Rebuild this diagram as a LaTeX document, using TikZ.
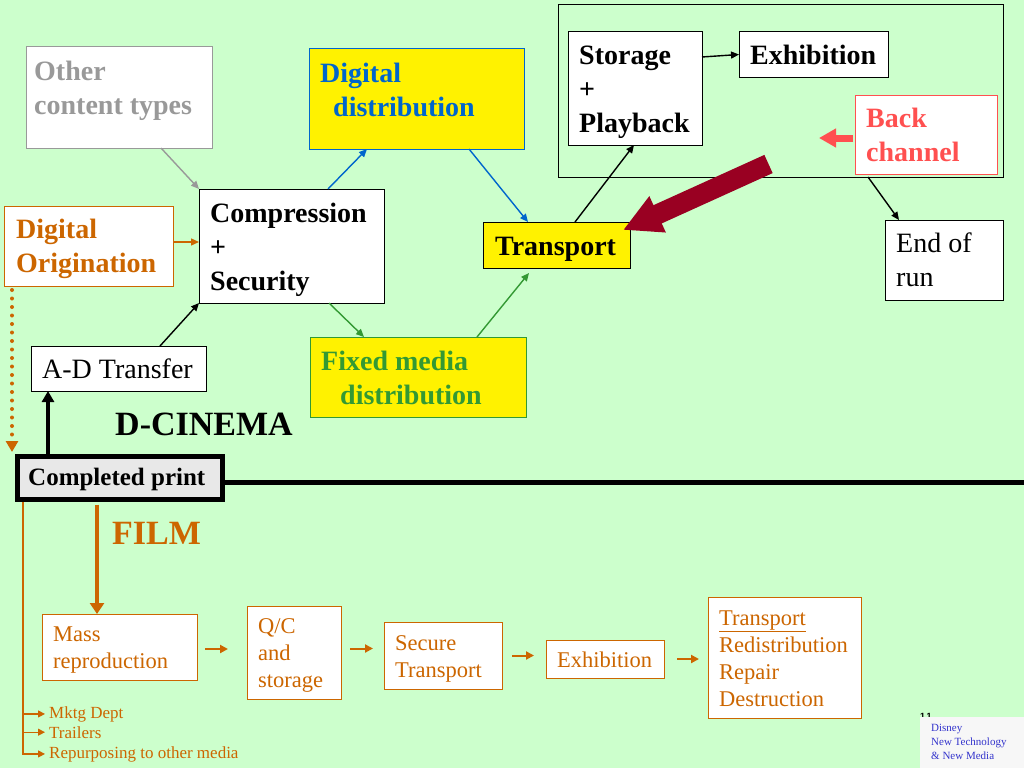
\documentclass[tikz,border=0pt]{standalone}
\usepackage{fontspec}
\setmainfont{Liberation Serif}
\newfontfamily\pagenofont{Liberation Sans}
\usetikzlibrary{arrows.meta}

\definecolor{bgreen}{HTML}{CCFFCC}
\definecolor{orng}{HTML}{CC6600}
\definecolor{gry}{HTML}{999999}
\definecolor{dblue}{HTML}{0066CC}
\definecolor{mgreen}{HTML}{339933}
\definecolor{bred}{HTML}{FF5050}
\definecolor{wine}{HTML}{990022}
\definecolor{dsblue}{HTML}{3333CC}

\begin{document}
\begin{tikzpicture}[x=1pt,y=-1pt,
                box/.style={draw,fill=white,line width=1pt,inner sep=0pt,outer sep=0pt,anchor=north west},
                fbox/.style={box,draw=orng},
                tx/.style={inner sep=0pt,anchor=base west,align=left,font=\fontsize{28}{34}\selectfont\bfseries},
                rm/.style={font=\fontsize{28}{34}\selectfont},
                ftx/.style={inner sep=0pt,anchor=base west,align=left,text=orng,font=\fontsize{22.5}{27}\selectfont},
                side/.style={inner sep=0pt,anchor=base west,text=orng,font=\fontsize{17}{20}\selectfont},
                conn/.style={line width=1.4pt,-{Triangle[length=8pt,width=7pt]}},
                farrow/.style={orng,line width=2pt,-{Triangle[length=8pt,width=8pt]}}
                ]
                \useasboundingbox (0,0) rectangle (1024,768);
                \fill[bgreen] (0,0) rectangle (1024,768);

                % D-cinema side (text nodes sit on the baseline of their last line)
                \node[box,draw=gry,minimum width=186,minimum height=101] (other) at (26,47) {};
                \node[box,draw=dblue,fill=yellow,minimum width=215,minimum height=100] (digdist) at (309,49) {};
                \node[box,minimum width=185,minimum height=114] (comp) at (199,189) {};
                \node[box,draw=orng,minimum width=169,minimum height=80] (digorig) at (4,206) {};
                \node[box,minimum width=175,minimum height=45] (adt) at (31,346) {};
                \node[box,draw=mgreen,fill=yellow,minimum width=216,minimum height=80] (fixed) at (310,337) {};
                \node[box,fill=yellow,minimum width=147,minimum height=46] (trans) at (483,222) {};
                \node[box,fill=none,minimum width=445,minimum height=172] (house) at (558,5) {};
                \node[box,minimum width=134,minimum height=113] (store) at (568,32) {};
                \node[box,minimum width=149,minimum height=45] (exhib) at (739,32) {};
                \node[box,draw=bred,minimum width=142,minimum height=79] (back) at (855,95) {};
                \node[box,minimum width=118,minimum height=80] (endrun) at (885,220) {};
                \node[box,fill=gray!18,line width=5pt,minimum width=205,minimum height=43] (print) at (17.5,456.5) {};

                \node[tx,text=gry] (othertx) at (34,114) {Other\\content types};
                \node[tx,text=dblue] (digdisttx) at (320,116) {Digital\\\hspace*{13pt}distribution};
                \node[tx] (comptx) at (210,290) {Compression\\+\\Security};
                \node[tx,text=orng] (digorigtx) at (16,272) {Digital\\Origination};
                \node[tx,rm] (adttx) at (42,378) {A-D Transfer};
                \node[tx,text=mgreen] (fixedtx) at (321,404) {Fixed media\\\hspace*{19pt}distribution};
                \node[tx] (transtx) at (495,255) {Transport};
                \node[tx] (storetx) at (579,132) {Storage\\+\\Playback};
                \node[tx] (exhibtx) at (750,64) {Exhibition};
                \node[tx,text=bred] (backtx) at (866,161) {Back\\channel};
                \node[tx,rm] (endruntx) at (896,286) {End of\\run};
                \node[tx,font=\fontsize{34}{40}\selectfont\bfseries] (dcinema) at (115,435) {D-CINEMA};
                \node[tx,font=\fontsize{25}{30}\selectfont\bfseries] (printtx) at (28,485) {Completed print};

                \draw[conn,gry] ([xshift=135pt]other.south west) -- (comp.north west);
                \draw[conn,orng] ([yshift=4pt]digorig.east) -- ([yshift=4pt]comp.west);
                \draw[conn] ([xshift=129pt]adt.north west) -- (comp.south west);
                \draw[conn,dblue] ([xshift=129pt]comp.north west) -- ([xshift=58pt]digdist.south west);
                \draw[conn,dblue] ([xshift=160pt]digdist.south west) -- ([xshift=45pt]trans.north west);
                \draw[conn,mgreen] ([xshift=130pt]comp.south west) -- ([xshift=54pt]fixed.north west);
                \draw[conn,mgreen] ([xshift=167pt]fixed.north west) -- ([xshift=46pt,yshift=-5pt]trans.south west);
                \draw[conn] ([xshift=92pt]trans.north west) -- ([xshift=66pt]store.south west);
                \draw[conn] ([yshift=-25pt]store.north east) -- (exhib.west);
                \draw[conn] ([xshift=310pt]house.south west) -- ([xshift=14pt]endrun.north west);
                \coordinate (backtip) at (819,138);
                \draw[bred,line width=7pt,-{Triangle[length=17pt,width=18pt]}] ([xshift=-2pt,yshift=-3.5pt]back.west) -- (backtip);
                \coordinate (redtail) at (768.5,164);
                \coordinate (redtip) at (623,230);
                \draw[wine,line width=20pt,-{Triangle[length=38pt,width=37pt]}] (redtail) -- (redtip);

                \draw[line width=4pt,-{Triangle[length=11pt,width=12pt]}] ([xshift=30.5pt,yshift=2.5pt]print.north west) -- ([xshift=17pt]adt.south west);
                \coordinate (dotend) at (12,452);
                \draw[orng,line width=4pt,line cap=round,dash pattern=on 0pt off 8.5pt,-{Triangle[length=11pt,width=12pt]}] ([xshift=8pt,yshift=-4pt]digorig.south west) -- (dotend);
                \coordinate (rim) at (1024,482);
                \draw[line width=5pt] ([yshift=-4pt]print.east) -- (rim);

                % film side
                \node[tx,text=orng,font=\fontsize{34}{40}\selectfont\bfseries] (film) at (112,544) {FILM};
                \node[fbox,minimum width=155,minimum height=66] (mass) at (42,614) {};
                \node[fbox,minimum width=94,minimum height=93] (qc) at (247,606) {};
                \node[fbox,minimum width=118,minimum height=67] (sectr) at (384,622) {};
                \node[fbox,minimum width=118,minimum height=38] (fexhib) at (546,640) {};
                \node[fbox,minimum width=153,minimum height=121] (redis) at (708,597) {};

                \node[ftx] (masstx) at (53,668) {Mass\\reproduction};
                \node[ftx] (qctx) at (258,687) {Q/C\\and\\storage};
                \node[ftx] (sectrtx) at (395,677) {Secure\\Transport};
                \node[ftx] (fexhibtx) at (557,667) {Exhibition};
                \node[ftx] (redistx) at (719,706) {\underline{Transport}\\Redistribution\\Repair\\Destruction};

                \draw[orng,line width=4pt,-{Triangle[length=11pt,width=14pt]}] ([xshift=79.5pt,yshift=-5pt]print.south west) -- ([xshift=55pt]mass.north west);
                \draw[farrow,shorten <=8pt,shorten >=19pt] ([yshift=-2pt]mass.east) -- ([yshift=-2pt]mass.east -| qc.west);
                \draw[farrow,shorten <=9pt,shorten >=11pt] ([yshift=4pt]qc.east) -- ([yshift=4pt]qc.east -| sectr.west);
                \draw[farrow,shorten <=10pt,shorten >=12pt] (sectr.east) -- (sectr.east -| fexhib.west);
                \draw[farrow,shorten <=13pt,shorten >=9pt] (fexhib.east) -- (fexhib.east -| redis.west);

                \node[side] (mktg) at (49,718) {Mktg Dept};
                \node[side] (trail) at (49,738) {Trailers};
                \node[side] (repur) at (49,758) {Repurposing to other media};
                \coordinate (ftop) at ([xshift=5.5pt,yshift=-2.5pt]print.south west);
                \draw[orng,line width=1.2pt,-{Triangle[length=7pt,width=7pt]}] (ftop) |- ([xshift=-4pt]repur.west);
                \draw[orng,line width=1.2pt,-{Triangle[length=7pt,width=7pt]}] (ftop |- mktg.west) -- ([xshift=-4pt]mktg.west);
                \draw[orng,line width=1.2pt,-{Triangle[length=7pt,width=7pt]}] (ftop |- trail.west) -- ([xshift=-4pt]trail.west);

                % footer
                \node[inner sep=0pt,anchor=base west,font=\pagenofont\bfseries\fontsize{9}{10}\selectfont] (pageno) at (920,719) {1\,1};
                \node[box,draw=none,fill=gray!6,minimum width=104,minimum height=51] (disney) at (920,717) {};
                \node[inner sep=0pt,anchor=base west,align=left,text=dsblue,font=\fontsize{11}{14}\selectfont] (disneytx) at (931,759) {Disney\\New Technology\\\& New Media};
\end{tikzpicture}
\end{document}
